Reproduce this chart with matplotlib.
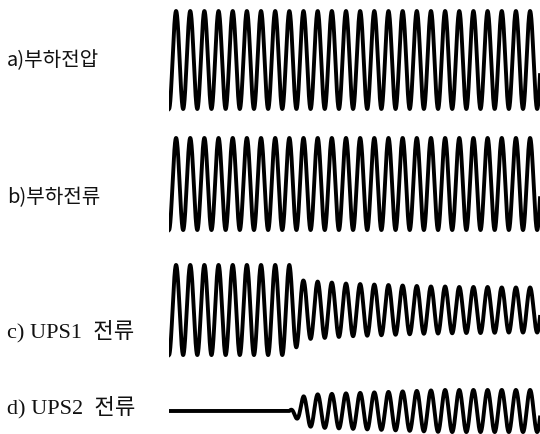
import numpy as np
import matplotlib.pyplot as plt

# Oscilloscope traces.
# Time is counted in mains cycles; cycle k has its positive peak at t = k + 0.5.
# Amplitudes are relative (load voltage peak = 1).
cycles = np.arange(27)
t_end = 26.2

amp_load_v = [1.00, 1.00, 1.00, 1.00, 1.00, 1.00, 1.00, 1.00, 1.00,
              1.00, 1.00, 1.00, 1.00, 1.00, 1.00, 1.00, 1.00, 1.00,
              1.00, 1.00, 1.00, 1.00, 1.00, 1.00, 1.00, 1.00, 1.00]
amp_load_i = [0.94, 0.94, 0.94, 0.94, 0.94, 0.94, 0.94, 0.94, 0.94,
              0.94, 0.94, 0.94, 0.94, 0.94, 0.94, 0.94, 0.94, 0.94,
              0.94, 0.94, 0.94, 0.94, 0.94, 0.94, 0.94, 0.94, 0.94]
amp_ups1 = [0.92, 0.92, 0.92, 0.92, 0.92, 0.92, 0.92, 0.92, 0.92,
            0.60, 0.58, 0.56, 0.54, 0.53, 0.52, 0.51, 0.50, 0.49,
            0.48, 0.48, 0.47, 0.47, 0.47, 0.46, 0.46, 0.46, 0.46]
amp_ups2 = [0.00, 0.00, 0.00, 0.00, 0.00, 0.00, 0.00, 0.00, 0.00,
            0.30, 0.34, 0.35, 0.36, 0.37, 0.38, 0.39, 0.40, 0.41,
            0.42, 0.43, 0.43, 0.43, 0.43, 0.43, 0.43, 0.43, 0.43]

labels = ['a)부하전압', 'b)부하전류', 'c) UPS1  전류', 'd) UPS2  전류']
series = [amp_load_v, amp_load_i, amp_ups1, amp_ups2]

# layout (pixels from the top of the 540x435 picture)
centers = [61, 185, 311, 412]
label_y = [61, 198, 331, 407]
scale = 49
sans = ['Noto Sans CJK KR', 'DejaVu Sans']
serif = ['Liberation Serif', 'Noto Sans CJK KR']
label_fonts = [sans, sans, serif, serif]
label_sizes = [14.5, 14.5, 16, 16]

fig = plt.figure(figsize=(5.4, 4.35), dpi=100)
ax = fig.add_axes([169 / 540, 0, 371 / 540, 1])
ax.set_xlim(0, t_end)
ax.set_ylim(435, 0)
ax.axis('off')

t = np.linspace(0, t_end, 4000)
for amp, c in zip(series, centers):
    envelope = np.interp(t, cycles + 0.5, amp)
    signal = -envelope * np.cos(2 * np.pi * t)
    ax.plot(t, c - scale * signal, color='black', linewidth=2.8)

for lab, y, fam, fs in zip(labels, label_y, label_fonts, label_sizes):
    fig.text(7 / 540, 1 - y / 435, lab, family=fam, fontsize=fs,
             ha='left', va='center', color='#111111')

fig.savefig('out.png', dpi=100)
